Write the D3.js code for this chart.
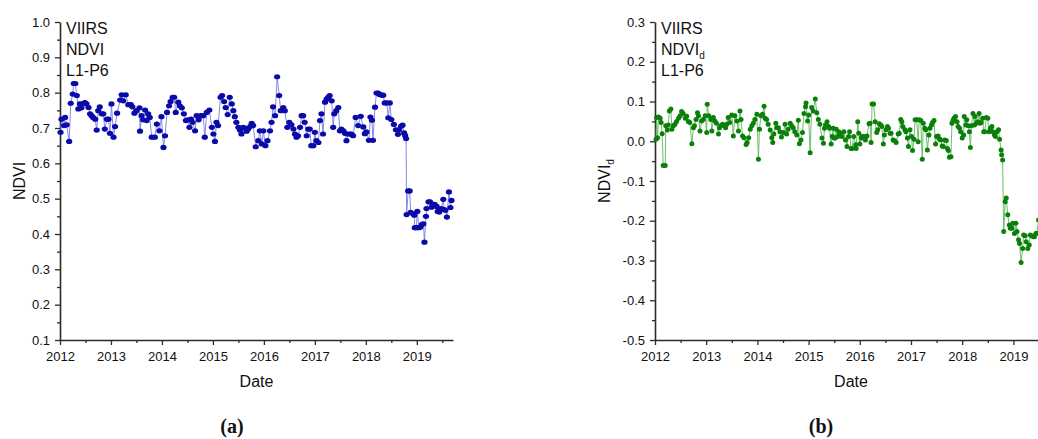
<!DOCTYPE html>
<html>
<head>
<meta charset="utf-8">
<script src="https://cdn.jsdelivr.net/npm/d3@7"></script>
<style>
  body { margin: 0; background: #fff; }
  svg text { font-family: "Liberation Sans", Arial, sans-serif; fill: #111; }
  svg text.caption { font-family: "Liberation Serif", "DejaVu Serif", serif; font-weight: bold; }
</style>
</head>
<body>
<svg id="chart" width="1038" height="439"></svg>
<script>
// panel (a): VIIRS NDVI, L1-P6 (decimal years)
const ndviDates = [
  2012.01, 2012.03, 2012.08, 2012.10, 2012.13, 2012.18, 2012.21, 2012.25, 2012.27, 2012.30,
  2012.33, 2012.36, 2012.39, 2012.42, 2012.46, 2012.49, 2012.52, 2012.56, 2012.59, 2012.62,
  2012.65, 2012.69, 2012.72, 2012.75, 2012.78, 2012.82, 2012.85, 2012.88, 2012.92, 2012.95,
  2012.98,
  2013.01, 2013.05, 2013.08, 2013.12, 2013.18, 2013.21, 2013.24, 2013.29, 2013.34, 2013.39,
  2013.42, 2013.46, 2013.50, 2013.56, 2013.57, 2013.60, 2013.63, 2013.67, 2013.70, 2013.73,
  2013.76, 2013.80, 2013.86, 2013.90, 2013.95, 2013.99,
  2014.03, 2014.06, 2014.10, 2014.14, 2014.17, 2014.21, 2014.24, 2014.27, 2014.32, 2014.35,
  2014.39, 2014.43, 2014.47, 2014.50, 2014.54, 2014.57, 2014.60, 2014.65, 2014.68, 2014.72,
  2014.76, 2014.81, 2014.84, 2014.88, 2014.93, 2014.98,
  2015.01, 2015.04, 2015.07, 2015.10, 2015.15, 2015.18, 2015.22, 2015.25, 2015.29, 2015.33,
  2015.37, 2015.40, 2015.43, 2015.46, 2015.50, 2015.53, 2015.56, 2015.59, 2015.63, 2015.66,
  2015.69, 2015.73, 2015.76, 2015.79, 2015.84, 2015.89, 2015.92, 2015.96, 2015.99,
  2016.03, 2016.07, 2016.12, 2016.15, 2016.18, 2016.22, 2016.26, 2016.30, 2016.33, 2016.38,
  2016.41, 2016.46, 2016.50, 2016.54, 2016.58, 2016.61, 2016.64, 2016.67, 2016.71, 2016.74,
  2016.77, 2016.80, 2016.84, 2016.87, 2016.90, 2016.93, 2016.97, 2017.00,
  2017.03, 2017.07, 2017.10, 2017.13, 2017.16, 2017.20, 2017.23, 2017.26, 2017.29, 2017.33,
  2017.36, 2017.38, 2017.42, 2017.46, 2017.49, 2017.52, 2017.56, 2017.59, 2017.62, 2017.65,
  2017.69, 2017.72, 2017.75, 2017.80, 2017.85, 2017.90, 2017.95, 2017.98,
  2018.01, 2018.06, 2018.09, 2018.12, 2018.14, 2018.18, 2018.21, 2018.24, 2018.27, 2018.31,
  2018.34, 2018.37, 2018.41, 2018.44, 2018.47, 2018.50, 2018.55, 2018.59, 2018.63, 2018.65,
  2018.69, 2018.72, 2018.75, 2018.77, 2018.79, 2018.80, 2018.83, 2018.86, 2018.88, 2018.92,
  2018.95, 2018.96, 2018.99,
  2019.01, 2019.04, 2019.07, 2019.10, 2019.13, 2019.15, 2019.18, 2019.19, 2019.23, 2019.26,
  2019.29, 2019.32, 2019.35, 2019.39, 2019.41, 2019.44, 2019.48, 2019.52, 2019.54, 2019.56,
  2019.59, 2019.63, 2019.66, 2019.68
];
const ndviValues = [
  0.688, 0.725, 0.707, 0.730, 0.709, 0.662, 0.770, 0.796, 0.826, 0.826,
  0.792, 0.754, 0.768, 0.757, 0.770, 0.772, 0.768, 0.758, 0.740, 0.735,
  0.730, 0.725, 0.694, 0.749, 0.760, 0.740, 0.740, 0.697, 0.725, 0.725,
  0.685,
  0.768, 0.674, 0.704, 0.742, 0.779, 0.794, 0.777, 0.794, 0.766, 0.766,
  0.760, 0.742, 0.749, 0.757, 0.691, 0.735, 0.723, 0.751, 0.721, 0.740,
  0.730, 0.674, 0.674, 0.711, 0.692, 0.732,
  0.645, 0.678, 0.744, 0.763, 0.775, 0.787, 0.787, 0.744, 0.773, 0.763,
  0.757, 0.740, 0.721, 0.723, 0.702, 0.725, 0.716, 0.692, 0.735, 0.723,
  0.735, 0.735, 0.674, 0.744, 0.751, 0.702,
  0.683, 0.662, 0.716, 0.707, 0.787, 0.792, 0.775, 0.758, 0.738, 0.787,
  0.768, 0.749, 0.732, 0.716, 0.702, 0.694, 0.683, 0.702, 0.700, 0.691,
  0.697, 0.704, 0.713, 0.707, 0.647, 0.664, 0.692, 0.655, 0.692,
  0.650, 0.664, 0.692, 0.716, 0.760, 0.735, 0.845, 0.792, 0.749, 0.758,
  0.749, 0.702, 0.716, 0.709, 0.697, 0.683, 0.674, 0.678, 0.702, 0.735,
  0.735, 0.716, 0.678, 0.697, 0.697, 0.650, 0.650, 0.688,
  0.664, 0.659, 0.721, 0.740, 0.683, 0.773, 0.782, 0.787, 0.792, 0.777,
  0.702, 0.740, 0.749, 0.758, 0.692, 0.697, 0.692, 0.685, 0.664, 0.683,
  0.683, 0.683, 0.678, 0.730, 0.707, 0.733, 0.703, 0.684,
  0.689, 0.665, 0.731, 0.722, 0.665, 0.759, 0.799, 0.799, 0.795, 0.793,
  0.793, 0.771, 0.771, 0.729, 0.771, 0.724, 0.710, 0.695, 0.682, 0.695,
  0.705, 0.708, 0.686, 0.679, 0.670, 0.455, 0.522, 0.522, 0.461, 0.458,
  0.453, 0.418, 0.418,
  0.464, 0.418, 0.420, 0.427, 0.429, 0.377, 0.450, 0.472, 0.491, 0.491,
  0.476, 0.484, 0.484, 0.478, 0.464, 0.462, 0.472, 0.498, 0.469, 0.467,
  0.448, 0.519, 0.475, 0.495
];

// panel (b): VIIRS NDVId, L1-P6 (decimal years)
const ndvidDates = [
  2012.02, 2012.03, 2012.05, 2012.07, 2012.10, 2012.12, 2012.14, 2012.16, 2012.20, 2012.21,
  2012.24, 2012.26, 2012.28, 2012.31, 2012.33, 2012.36, 2012.39, 2012.42, 2012.46, 2012.49,
  2012.52, 2012.55, 2012.59, 2012.62, 2012.65, 2012.68, 2012.72, 2012.75, 2012.77, 2012.80,
  2012.83, 2012.85, 2012.88, 2012.91, 2012.94, 2012.98,
  2013.01, 2013.02, 2013.05, 2013.09, 2013.11, 2013.14, 2013.17, 2013.20, 2013.24, 2013.26,
  2013.28, 2013.32, 2013.35, 2013.38, 2013.40, 2013.43, 2013.46, 2013.50, 2013.53, 2013.56,
  2013.60, 2013.63, 2013.66, 2013.68, 2013.71, 2013.74, 2013.78, 2013.80, 2013.83, 2013.86,
  2013.89, 2013.92, 2013.95, 2013.99,
  2014.02, 2014.04, 2014.07, 2014.10, 2014.13, 2014.15, 2014.18, 2014.21, 2014.25, 2014.28,
  2014.30, 2014.32, 2014.36, 2014.38, 2014.41, 2014.44, 2014.47, 2014.51, 2014.54, 2014.57,
  2014.60, 2014.64, 2014.67, 2014.70, 2014.73, 2014.77, 2014.80, 2014.82, 2014.85, 2014.88,
  2014.91, 2014.94, 2014.95, 2014.98,
  2015.00, 2015.03, 2015.06, 2015.09, 2015.13, 2015.16, 2015.19, 2015.22, 2015.26, 2015.29,
  2015.31, 2015.33, 2015.36, 2015.39, 2015.41, 2015.44, 2015.46, 2015.48, 2015.50, 2015.52,
  2015.54, 2015.57, 2015.59, 2015.62, 2015.65, 2015.69, 2015.72, 2015.75, 2015.78, 2015.80,
  2015.83, 2015.85, 2015.88, 2015.92, 2015.93, 2015.96, 2015.98,
  2016.00, 2016.03, 2016.05, 2016.08, 2016.11, 2016.14, 2016.18, 2016.20, 2016.22, 2016.24,
  2016.27, 2016.30, 2016.33, 2016.35, 2016.38, 2016.41, 2016.43, 2016.46, 2016.48, 2016.51,
  2016.54, 2016.56, 2016.59, 2016.61, 2016.65, 2016.68, 2016.71, 2016.75, 2016.77, 2016.80,
  2016.82, 2016.84, 2016.88, 2016.90, 2016.93, 2016.95, 2016.98,
  2017.01, 2017.03, 2017.06, 2017.08, 2017.11, 2017.14, 2017.16, 2017.19, 2017.22, 2017.24,
  2017.27, 2017.29, 2017.32, 2017.35, 2017.37, 2017.40, 2017.42, 2017.45, 2017.48, 2017.50,
  2017.53, 2017.56, 2017.58, 2017.61, 2017.63, 2017.66, 2017.69, 2017.71, 2017.73, 2017.75,
  2017.78, 2017.80, 2017.82, 2017.84, 2017.87, 2017.90, 2017.92, 2017.95, 2017.97,
  2018.00, 2018.03, 2018.04, 2018.07, 2018.09, 2018.12, 2018.14, 2018.16, 2018.18, 2018.21,
  2018.24, 2018.25, 2018.28, 2018.30, 2018.33, 2018.35, 2018.37, 2018.40, 2018.42, 2018.44,
  2018.47, 2018.50, 2018.52, 2018.55, 2018.58, 2018.60, 2018.63, 2018.65, 2018.68, 2018.71,
  2018.73, 2018.76, 2018.77, 2018.79, 2018.81, 2018.84, 2018.86, 2018.89, 2018.92, 2018.94,
  2018.97, 2018.99,
  2019.02, 2019.05, 2019.07, 2019.10, 2019.12, 2019.15, 2019.18, 2019.20, 2019.23, 2019.25,
  2019.28, 2019.31, 2019.33, 2019.36, 2019.39, 2019.41, 2019.44, 2019.46, 2019.49
];
const ndvidValues = [
  0.005, 0.060, 0.009, 0.061, 0.058, 0.047, 0.019, -0.061, -0.061, 0.039,
  0.028, 0.041, 0.076, 0.081, 0.030, 0.039, 0.043, 0.050, 0.058, 0.064,
  0.075, 0.070, 0.058, 0.063, 0.050, 0.047, -0.006, 0.034, 0.039, 0.055,
  0.072, 0.064, 0.026, 0.051, 0.055, 0.064,
  0.022, 0.093, 0.064, 0.055, 0.026, 0.060, 0.051, 0.045, 0.018, 0.034,
  0.039, 0.043, 0.039, 0.034, 0.043, 0.060, 0.047, 0.066, 0.013, 0.064,
  0.051, 0.026, 0.076, 0.055, 0.013, 0.009, -0.008, -0.003, 0.009, 0.030,
  0.039, 0.045, 0.055, 0.068,
  -0.045, 0.030, 0.064, 0.068, 0.088, 0.058, 0.055, 0.043, 0.028, 0.009,
  -0.003, 0.018, 0.045, 0.034, 0.034, 0.024, 0.011, 0.022, 0.043, 0.018,
  0.030, 0.045, 0.039, 0.034, 0.024, 0.016, 0.053, -0.006, 0.003, 0.022,
  0.070, 0.087, 0.096, 0.051,
  0.066, -0.029, 0.085, 0.076, 0.106, 0.072, 0.055, 0.043, 0.008, -0.005,
  0.033, 0.041, 0.049, 0.037, 0.033, -0.007, 0.012, 0.033, 0.008, 0.008,
  0.030, 0.012, 0.024, 0.020, 0.012, 0.024, 0.003, -0.013, 0.012, 0.024,
  -0.018, -0.018, 0.012, -0.009, -0.018, 0.049, 0.020,
  -0.007, 0.008, 0.012, 0.012, 0.003, 0.013, 0.044, 0.045, -0.003, 0.094,
  0.094, 0.049, 0.022, 0.029, 0.044, 0.041, 0.037, -0.007, 0.016, 0.029,
  0.037, 0.033, 0.020, 0.020, 0.003, 0.001, -0.003, 0.018, 0.020, 0.055,
  0.049, 0.037, 0.029, 0.024, 0.008, -0.013, 0.029,
  0.012, -0.023, 0.005, 0.054, 0.054, -0.001, 0.054, 0.052, -0.045, 0.045,
  0.033, 0.029, -0.022, 0.016, 0.033, 0.041, 0.047, 0.052, -0.007, 0.012,
  0.013, 0.005, 0.003, -0.012, -0.013, 0.003, 0.002, -0.018, -0.023, -0.040,
  -0.039, 0.045, 0.052, 0.058, 0.062, 0.049, 0.037, 0.033, 0.024,
  0.008, 0.016, 0.062, 0.041, 0.054, 0.039, 0.024, -0.016, 0.039, 0.070,
  0.041, 0.062, 0.045, 0.049, 0.070, 0.045, 0.047, 0.058, 0.024, 0.024,
  0.060, 0.058, 0.024, 0.033, 0.037, 0.024, 0.016, 0.012, 0.024, 0.029,
  0.005, -0.022, -0.034, -0.047, -0.227, -0.152, -0.143, -0.185, -0.211, -0.219,
  -0.219, -0.206,
  -0.232, -0.206, -0.227, -0.248, -0.257, -0.305, -0.270, -0.236, -0.238, -0.253,
  -0.270, -0.261, -0.236, -0.238, -0.240, -0.240, -0.232, -0.232, -0.198
];

const yearTicks = [2012, 2013, 2014, 2015, 2016, 2017, 2018, 2019];
const yearMinorTicks = [2012.5, 2013.5, 2014.5, 2015.5, 2016.5, 2017.5, 2018.5, 2019.5];
const ndviTicks = [0.1, 0.2, 0.3, 0.4, 0.5, 0.6, 0.7, 0.8, 0.9, 1.0];
const ndviMinorTicks = [0.15, 0.25, 0.35, 0.45, 0.55, 0.65, 0.75, 0.85, 0.95];
const ndvidTicks = [-0.5, -0.4, -0.3, -0.2, -0.1, 0.0, 0.1, 0.2, 0.3];
const ndvidMinorTicks = [-0.45, -0.35, -0.25, -0.15, -0.05, 0.05, 0.15, 0.25];

const svg = d3.select("#chart");
const plotTop = 22, plotBottom = 340;
const axisColor = "#2b2b2b";

function addSub(text, main, sub, subSize) {
  text.append("tspan").text(main);
  text.append("tspan").attr("dy", 4).attr("font-size", subSize).text(sub);
}

function drawPanel(p) {
  const x = d3.scaleLinear().domain(p.xDomain).range([p.left, p.right]);
  const y = d3.scaleLinear().domain(p.yDomain).range([plotBottom, plotTop]);
  const g = svg.append("g");

  // minor ticks first, then major axes on top
  g.append("g")
    .attr("transform", `translate(0,${plotBottom})`)
    .call(d3.axisBottom(x).tickValues(yearMinorTicks.filter(v => v <= p.xDomain[1]))
      .tickSize(3).tickSizeOuter(0).tickFormat(""))
    .call(a => a.select(".domain").remove());
  g.append("g")
    .attr("transform", `translate(${p.left},0)`)
    .call(d3.axisLeft(y).tickValues(p.yMinor).tickSize(3).tickSizeOuter(0).tickFormat(""))
    .call(a => a.select(".domain").remove());

  const xAxis = g.append("g")
    .attr("transform", `translate(0,${plotBottom})`)
    .call(d3.axisBottom(x).tickValues(yearTicks).tickSize(5).tickSizeOuter(0)
      .tickPadding(7).tickFormat(d3.format("d")));
  const yAxis = g.append("g")
    .attr("transform", `translate(${p.left},0)`)
    .call(d3.axisLeft(y).tickValues(p.yTicks).tickSize(5).tickSizeOuter(0)
      .tickPadding(5).tickFormat(v => (Math.round(v * 10) / 10).toFixed(1)));

  g.selectAll(".tick line").attr("stroke", axisColor).attr("stroke-width", 1.3);
  [xAxis, yAxis].forEach(a => {
    a.select(".domain").attr("stroke", axisColor).attr("stroke-width", 1.6);
    a.selectAll("text").attr("font-size", 13).attr("fill", "#111");
  });

  const pts = p.dates.map((d, i) => ({ t: d, v: p.values[i] }));

  g.append("path")
    .datum(pts)
    .attr("fill", "none")
    .attr("stroke", p.lineColor)
    .attr("stroke-width", 0.9)
    .attr("d", d3.line().x(d => x(d.t)).y(d => y(d.v)));

  g.selectAll("ellipse.pt")
    .data(pts)
    .join("ellipse")
    .attr("class", "pt")
    .attr("cx", d => x(d.t))
    .attr("cy", d => y(d.v))
    .attr("rx", p.rx)
    .attr("ry", p.ry)
    .attr("fill", p.markColor);

  // corner note
  const note = g.append("g").attr("font-size", 16);
  note.append("text").attr("x", p.left + 6).attr("y", 34).text("VIIRS");
  const n2 = note.append("text").attr("x", p.left + 6).attr("y", 55);
  if (p.sub) addSub(n2, "NDVI", "d", 10); else n2.text("NDVI");
  note.append("text").attr("x", p.left + 6).attr("y", 76).text("L1-P6");

  // axis titles
  g.append("text")
    .attr("x", (p.left + p.titleRight) / 2)
    .attr("y", 387)
    .attr("text-anchor", "middle")
    .attr("font-size", 16)
    .text("Date");
  const yl = g.append("text")
    .attr("transform", `translate(${p.yLabelX},${(plotTop + plotBottom) / 2}) rotate(-90)`)
    .attr("text-anchor", "middle")
    .attr("font-size", 16);
  if (p.sub) addSub(yl, "NDVI", "d", 10); else yl.text("NDVI");

  svg.append("text")
    .attr("class", "caption")
    .attr("x", p.capX)
    .attr("y", 433)
    .attr("text-anchor", "middle")
    .attr("font-size", 20)
    .text(p.caption);
}

drawPanel({
  left: 60, right: 453, xDomain: [2012, 2019.71],
  yDomain: [0.1, 1.0], yTicks: ndviTicks, yMinor: ndviMinorTicks,
  dates: ndviDates, values: ndviValues,
  lineColor: "#7b7be6", markColor: "#0a0aa8", rx: 3.1, ry: 2.6,
  sub: false, titleRight: 453, yLabelX: 25, capX: 232, caption: "(a)"
});

drawPanel({
  left: 655, right: 1039, xDomain: [2012, 2019.5],
  yDomain: [-0.5, 0.3], yTicks: ndvidTicks, yMinor: ndvidMinorTicks,
  dates: ndvidDates, values: ndvidValues,
  lineColor: "#5cb85c", markColor: "#0a7f0a", rx: 2.5, ry: 2.5,
  sub: true, titleRight: 1047, yLabelX: 610, capX: 821, caption: "(b)"
});
</script>
</body>
</html>
